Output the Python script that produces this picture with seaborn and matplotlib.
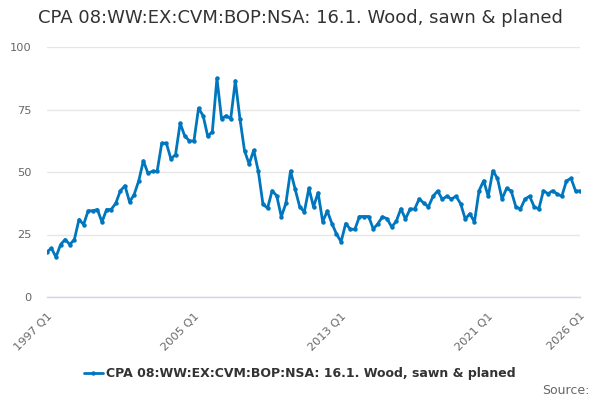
import matplotlib
matplotlib.use("Agg")
import matplotlib.pyplot as plt
import numpy as np
import pandas as pd
import seaborn as sns

TITLE = "CPA 08:WW:EX:CVM:BOP:NSA: 16.1. Wood, sawn & planed"
START_YEAR = 1997
END_YEAR = 2026

# quarterly values, 1997 Q1 .. 2026 Q1
values = [
    18, 19.5, 16, 21, 23, 21, 23, 31, 29, 34.5, 34.5, 35, 30, 35, 35, 37.5,
    42.5, 44.5, 38, 41, 46.5, 54.5, 49.5, 50.3, 50.3, 61.5, 61.5, 55.2, 57, 69.5, 64.4, 62.5,
    62.4, 75.5, 72.5, 64.3, 66.1, 87.5, 71.3, 72.5, 71.3, 86.5, 71.3, 58.5, 53.2, 58.7, 50.3, 37.2,
    35.5, 42.5, 40.5, 32.1, 37.5, 50.4, 43.2, 36.1, 34, 43.5, 36.1, 41.7, 30.1, 34.4, 29.4, 25.2,
    22.1, 29.4, 27.1, 27.1, 32.2, 32.2, 32.2, 27.2, 29.3, 32.1, 31.3, 28, 30.3, 35.3, 31.2, 35.2,
    35.2, 39.3, 37.5, 36.1, 40.3, 42.4, 39.1, 40.3, 39.2, 40.3, 37.3, 31.2, 33.3, 30, 42.5, 46.5,
    40.3, 50.5, 47.5, 39.2, 43.5, 42.4, 36.1, 35.2, 39.2, 40.3, 36.1, 35.2, 42.5, 41.3, 42.5, 41.2,
    40.3, 46.4, 47.5, 42.4, 42.4,
]
quarters = [f"{y} Q{q}" for y in range(START_YEAR, END_YEAR + 1) for q in range(1, 5)][:len(values)]
label_quarters = ["1997 Q1", "2005 Q1", "2013 Q1", "2021 Q1", "2026 Q1"]
y_ticks = [0, 25, 50, 75, 100]

LINE = "#0076be"
GRID = "#e6e6e6"
AXIS = "#ccd6eb"
TEXT = "#333333"
TICK_TEXT = "#666666"


def main():
    sns.set_style("white")
    plt.rcParams["font.family"] = ["DejaVu Sans"]
    df = pd.DataFrame({"quarter": quarters, "value": values})
    df["pos"] = np.arange(len(df))

    fig, ax = plt.subplots(figsize=(6, 4), dpi=100)
    fig.subplots_adjust(left=0.078, right=0.967, top=0.8825, bottom=0.2575)

    sns.lineplot(data=df, x="pos", y="value", ax=ax, color=LINE, linewidth=2,
                 marker="o", markersize=3.2, markeredgewidth=0, label=TITLE, legend=False)

    ax.set_xlim(df["pos"].iloc[0], df["pos"].iloc[-1])
    ax.set_ylim(0, 100)
    ax.set_xlabel(""); ax.set_ylabel("")

    ax.set_yticks(y_ticks)
    ax.set_yticklabels([str(v) for v in y_ticks], color=TICK_TEXT, fontsize=8.2)
    ax.yaxis.grid(True, color=GRID, linewidth=1)
    ax.tick_params(axis="y", length=0, pad=11)

    tick_pos = list(range(0, len(df) - 4, 8)) + [len(df) - 1]
    ax.set_xticks(tick_pos, minor=True)
    pos_of = dict(zip(df["quarter"], df["pos"]))
    ax.set_xticks([pos_of[q] for q in label_quarters])
    ax.set_xticklabels(label_quarters, rotation=45, ha="right", rotation_mode="anchor",
                       color=TICK_TEXT, fontsize=8.2)
    ax.tick_params(axis="x", which="both", length=7, color=AXIS, width=1, pad=3)

    for side in ["top", "right", "left"]:
        ax.spines[side].set_visible(False)
    ax.spines["bottom"].set_color(AXIS)
    ax.spines["bottom"].set_linewidth(1)
    ax.set_axisbelow(True)

    fig.text(0.5, 0.955, TITLE, ha="center", va="center", fontsize=13, color=TEXT)
    handles, labels = ax.get_legend_handles_labels()
    fig.legend(handles, labels, loc="center", bbox_to_anchor=(0.5, 0.066), frameon=False,
               prop={"weight": "bold", "size": 9.0}, labelcolor=TEXT, handlelength=1.5,
               handletextpad=0.3)
    fig.text(0.983, 0.025, "Source:", ha="right", va="center", fontsize=9, color=TICK_TEXT)

    fig.savefig("out.png", dpi=100)
    plt.close(fig)


if __name__ == "__main__":
    main()
